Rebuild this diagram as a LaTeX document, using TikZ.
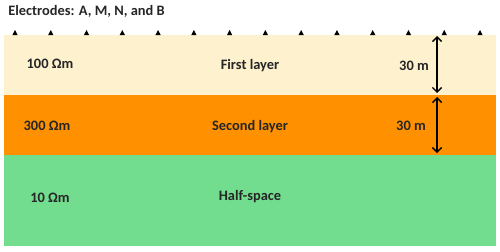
\documentclass[tikz,border=0pt]{standalone}
\usepackage{fontspec}
\setmainfont{Carlito}
\usetikzlibrary{arrows.meta}

\definecolor{layerone}{HTML}{FEF1CE}
\definecolor{layertwo}{HTML}{FF9100}
\definecolor{halfspace}{HTML}{72DC8F}

\begin{document}
\begin{tikzpicture}[x=0.02cm, y=-0.02cm,
	lbl/.style={font=\fontsize{8.2}{9}\selectfont\bfseries, text=black!85, inner sep=0pt},
	thick30/.style={{Straight Barb[length=2.6pt,width=5.2pt]}-{Straight Barb[length=2.6pt,width=5.2pt]}, line width=0.8pt}]
	\useasboundingbox (0, 0) rectangle (500, 251);
	% layers
	\fill [layerone] (4, 35) rectangle (496, 95);
	\fill [layertwo] (4, 95) rectangle (496, 155);
	\fill [halfspace] (4, 155) rectangle (496, 246);
	% electrodes
	\foreach \i in {0,...,13}
		\fill (15 + 35.77*\i - 2.6, 35) -- (15 + 35.77*\i + 2.6, 35) -- (15 + 35.77*\i, 30) -- cycle;
	\node [lbl, anchor=west] (title) at (8, 11) {Electrodes: A, M, N, and B};
	% labels
	\node [lbl] (rho1) at (50, 64) {100 Ωm};
	\node [lbl] (rho2) at (47, 126) {300 Ωm};
	\node [lbl] (rho3) at (50, 198) {10 Ωm};
	\node [lbl] (name1) at (250, 66) {First layer};
	\node [lbl] (name2) at (250, 127) {Second layer};
	\node [lbl] (name3) at (250, 197) {Half-space};
	\node [lbl] (h1) at (414, 66) {30 m};
	\node [lbl] (h2) at (411, 126) {30 m};
	% thickness arrows
	\coordinate (t1) at (437, 36);
	\coordinate (b1) at (437, 93);
	\coordinate (t2) at (437, 97);
	\coordinate (b2) at (437, 153);
	\draw [thick30] (t1) -- (b1);
	\draw [thick30] (t2) -- (b2);
\end{tikzpicture}
\end{document}
